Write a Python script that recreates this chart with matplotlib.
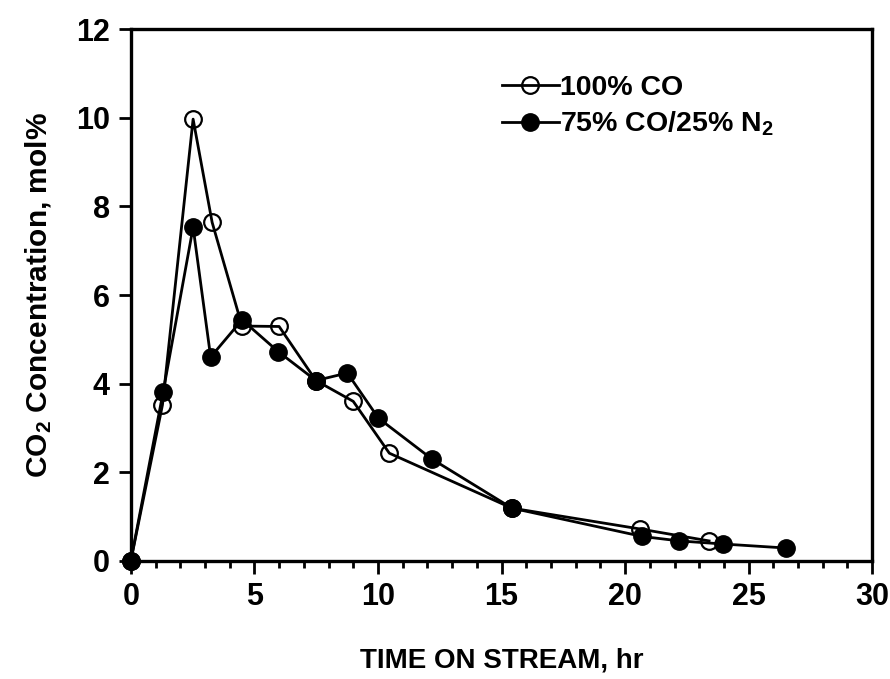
import numpy as np
import matplotlib
matplotlib.use("Agg")
import matplotlib.pyplot as plt
from matplotlib.ticker import MultipleLocator

# CO2 in the off-gas vs. time on stream for the two feed gases
t_co100 = [0, 1.28, 2.52, 3.29, 4.5, 6.0, 7.49, 9.0, 10.46, 15.42, 20.6, 23.4]
c_co100 = [0, 3.52, 9.97, 7.64, 5.30, 5.29, 4.07, 3.60, 2.43, 1.19, 0.72, 0.45]

t_co75 = [0, 1.31, 2.52, 3.23, 4.5, 5.97, 7.49, 8.76, 10.02, 12.18, 15.42,
          20.7, 22.2, 23.97, 26.5]
c_co75 = [0, 3.82, 7.53, 4.60, 5.44, 4.72, 4.07, 4.24, 3.22, 2.30, 1.19,
          0.55, 0.45, 0.38, 0.29]

labels = ["100% CO", "75% CO/25% N$_2$"]

plt.rcParams["font.family"] = ["Liberation Sans", "DejaVu Sans"]
plt.rcParams["font.weight"] = "bold"
plt.rcParams["mathtext.fontset"] = "custom"
plt.rcParams["mathtext.rm"] = "Liberation Sans:bold"
plt.rcParams["mathtext.it"] = "Liberation Sans:bold"
plt.rcParams["mathtext.bf"] = "Liberation Sans:bold"

fig = plt.figure(figsize=(8.9, 6.79), dpi=100)
ax = fig.add_axes([0.147, 0.174, 0.833, 0.783])

ax.plot(t_co100, c_co100, color="black", lw=2, marker="o", ms=12,
        mfc="none", mec="black", mew=1.6, clip_on=False, label=labels[0])
ax.plot(t_co75, c_co75, color="black", lw=2, marker="o", ms=12.5,
        mfc="black", mec="black", clip_on=False, label=labels[1])

ax.set_xlim(0, 30)
ax.set_ylim(0, 12)
ax.xaxis.set_major_locator(MultipleLocator(5))
ax.xaxis.set_minor_locator(MultipleLocator(1))
ax.yaxis.set_major_locator(MultipleLocator(2))

for s in ax.spines.values():
    s.set_linewidth(2.4)
ax.tick_params(axis="both", which="major", direction="out", length=9,
               width=2, labelsize=22, pad=6)
ax.tick_params(axis="x", which="minor", direction="out", length=5, width=2)
ax.tick_params(top=False, right=False)

ax.set_xlabel("TIME ON STREAM, hr", fontsize=20, fontweight="bold", labelpad=26)
ax.set_ylabel("CO$_2$ Concentration, mol%", fontsize=21.5, fontweight="bold",
              labelpad=16)

leg = ax.legend(loc="upper left", bbox_to_anchor=(0.485, 0.935), frameon=False,
                fontsize=20.5, handlelength=2.0, handletextpad=0.05,
                labelspacing=0.3, borderaxespad=0)

fig.savefig("out.png", dpi=100)
